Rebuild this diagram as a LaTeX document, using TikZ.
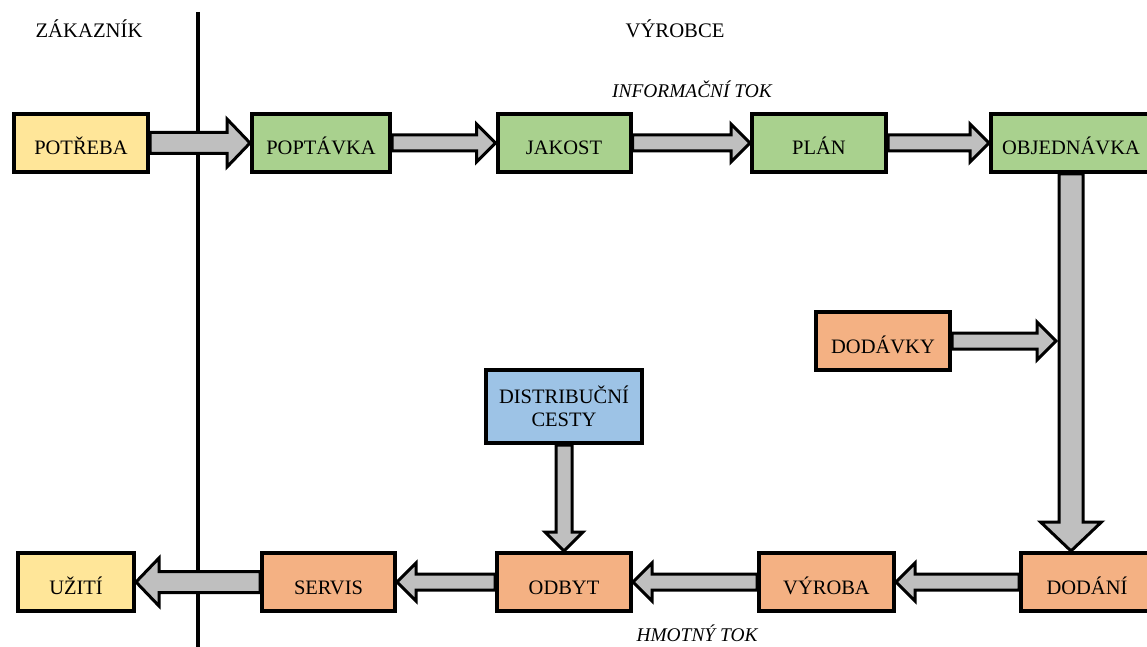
\documentclass[tikz,border=0pt]{standalone}
\usepackage{fontspec}
\setmainfont{Liberation Serif}
\usetikzlibrary{calc,backgrounds}

\definecolor{needyellow}{HTML}{FFE699}
\definecolor{infogreen}{HTML}{A9D18E}
\definecolor{goodsorange}{HTML}{F4B183}
\definecolor{channelblue}{HTML}{9DC3E6}
\definecolor{flowgray}{HTML}{BFBFBF}

\tikzset{
  basebox/.style={draw=black, line width=4pt, inner sep=0pt,
    minimum width=134pt, minimum height=58pt,
    font=\fontsize{20.5}{23}\selectfont},
  box/.style={basebox, text height=24pt, text depth=0pt},
  heading/.style={anchor=base, inner sep=0pt, font=\fontsize{20.7}{24}\selectfont},
  flowlabel/.style={anchor=base, inner sep=0pt, font=\fontsize{19.4}{22}\selectfont\itshape},
  divider/.style={draw=black, line width=3.5pt},
  % block arrow: #1 shaft half-width, #2 head half-width, #3 head length
  flow/.style n args={3}{draw=black, line width=3pt, fill=flowgray, line join=miter,
    to path={let \p1=(\tikztostart), \p2=(\tikztotarget),
      \n1={atan2(\y2-\y1,\x2-\x1)}, \n2={cos(\n1)}, \n3={sin(\n1)} in
      ({\x1+#1*\n3}, {\y1-#1*\n2})
      -- ({\x2-#3*\n2+#1*\n3}, {\y2-#3*\n3-#1*\n2})
      -- ({\x2-#3*\n2+#2*\n3}, {\y2-#3*\n3-#2*\n2})
      -- (\p2)
      -- ({\x2-#3*\n2-#2*\n3}, {\y2-#3*\n3+#2*\n2})
      -- ({\x2-#3*\n2-#1*\n3}, {\y2-#3*\n3+#1*\n2})
      -- ({\x1-#1*\n3}, {\y1+#1*\n2}) -- cycle}},
  thinflow/.style={flow={8pt}{19pt}{19pt}},
  wideflow/.style={flow={10.5pt}{24pt}{23pt}},
  bigflow/.style={flow={12pt}{30.5pt}{29pt}},
}

\begin{document}
\begin{tikzpicture}[x=1pt, y=-1pt]
\useasboundingbox (0,0) rectangle (1147,647);

% headings
\node[heading] (customer) at (89,38) {ZÁKAZNÍK};
\node[heading] (maker) at (675,38) {VÝROBCE};
\node[flowlabel] (infoflow) at (692,98) {INFORMAČNÍ TOK};
\node[flowlabel] (goodsflow) at (697,641) {HMOTNÝ TOK};

% information flow row
\node[box, fill=needyellow] (potreba) at (81,143) {POTŘEBA};
\node[box, fill=infogreen, minimum width=138pt] (poptavka) at (321,143) {POPTÁVKA};
\node[box, fill=infogreen, minimum width=133pt] (jakost) at (564,143) {JAKOST};
\node[box, fill=infogreen] (plan) at (819,143) {PLÁN};
\node[box, fill=infogreen, minimum width=160pt] (objednavka) at (1071,143) {OBJEDNÁVKA};

% supplies and distribution
\node[box, fill=goodsorange] (dodavky) at (883,341) {DODÁVKY};
\node[basebox, fill=channelblue, minimum width=156pt, minimum height=73pt,
      align=center] (distrib) at (564,406.5) {DISTRIBUČNÍ\\CESTY};

% material flow row
\node[box, fill=needyellow, minimum width=116pt] (uziti) at (76,582) {UŽITÍ};
\node[box, fill=goodsorange, minimum width=133pt] (servis) at (328.5,582) {SERVIS};
\node[box, fill=goodsorange] (odbyt) at (564,582) {ODBYT};
\node[box, fill=goodsorange, minimum width=135pt] (vyroba) at (826.5,582) {VÝROBA};
\node[box, fill=goodsorange, minimum width=132pt] (dodani) at (1087,582) {DODÁNÍ};

\coordinate (drop) at (objednavka.south |- dodani.north);
\coordinate (feed) at ([xshift=-15pt]objednavka.south |- dodavky.east);
\coordinate (divtop) at (198,12);
\coordinate (divbottom) at (198,650);

\begin{scope}[on background layer]
  \draw[divider] (divtop) -- (divbottom);

  \draw[wideflow] (potreba.east) to (poptavka.west);
  \draw[thinflow] (poptavka.east) to (jakost.west);
  \draw[thinflow] (jakost.east) to (plan.west);
  \draw[thinflow] (plan.east) to (objednavka.west);

  \draw[thinflow] (dodavky.east) to (feed);
  \draw[bigflow] (objednavka.south) to (drop);

  \draw[thinflow] (distrib.south) to (odbyt.north);

  \draw[thinflow] (dodani.west) to (vyroba.east);
  \draw[thinflow] (vyroba.west) to (odbyt.east);
  \draw[thinflow] (odbyt.west) to (servis.east);
  \draw[wideflow] (servis.west) to (uziti.east);
\end{scope}
\end{tikzpicture}
\end{document}
